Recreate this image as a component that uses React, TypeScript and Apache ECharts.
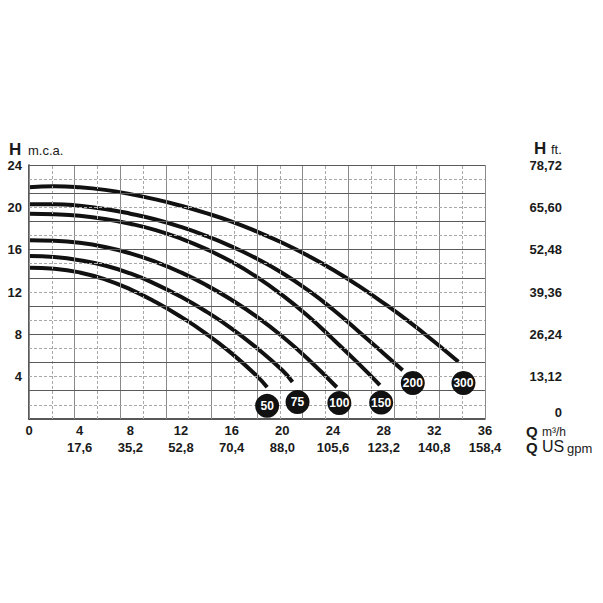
import React, { useEffect, useRef } from 'react';
import * as echarts from 'echarts';

// Pump curves: [Q m3/h, H m.c.a.]
const curve50 = [[0, 14.3], [2, 14.2], [4, 13.85], [6, 13.2], [8, 12.25], [10, 11.05], [12, 9.65], [14, 8.05], [16, 6.2], [18, 4.05], [18.8, 3.0]];
const curve75 = [[0, 15.4], [2, 15.3], [4, 15.0], [6, 14.5], [8, 13.75], [10, 12.75], [12, 11.55], [14, 10.15], [16, 8.55], [18, 6.7], [20, 4.6], [20.8, 3.5]];
const curve100 = [[0, 16.9], [2, 16.85], [4, 16.65], [6, 16.25], [8, 15.65], [10, 14.85], [12, 13.85], [14, 12.65], [16, 11.25], [18, 9.65], [20, 7.8], [22, 5.7], [24.3, 3.0]];
const curve150 = [[0, 19.4], [2, 19.35], [4, 19.2], [6, 18.9], [8, 18.45], [10, 17.85], [12, 17.05], [14, 16.05], [16, 14.85], [18, 13.4], [20, 11.7], [22, 9.75], [24, 7.55], [26, 5.25], [27.7, 3.2]];
const curve200 = [[0, 20.3], [2, 20.3], [4, 20.15], [6, 19.85], [8, 19.4], [10, 18.85], [12, 18.15], [14, 17.3], [16, 16.3], [18, 15.15], [20, 13.8], [22, 12.2], [24, 10.35], [26, 8.3], [28, 6.2], [29.5, 4.6]];
const curve300 = [[0, 21.9], [2, 22.0], [4, 21.9], [6, 21.65], [8, 21.25], [10, 20.75], [12, 20.15], [14, 19.45], [16, 18.65], [18, 17.7], [20, 16.65], [22, 15.45], [24, 14.1], [26, 12.6], [28, 10.95], [30, 9.2], [32, 7.3], [33.9, 5.4]];

const curveNames = ['50', '75', '100', '150', '200', '300'];
const curves = [curve50, curve75, curve100, curve150, curve200, curve300];

// Badge label positions [Q, H, name]
const badges = [[18.8, 1.25, '50'], [21.2, 1.6, '75'], [24.5, 1.5, '100'], [27.8, 1.55, '150'], [30.3, 3.4, '200'], [34.3, 3.4, '300']];

// Axes
const qMin = 0, qMax = 36, qLabelStep = 4;
const hMin = 0, hMax = 24, hLabelStep = 4;
const gridDivX = 20; // vertical grid divisions
const gridDivY = 18; // horizontal grid divisions
const m3hToGpm = 4.4;
const mToFt = 3.28;

const FONT = "'Liberation Sans', Arial, Helvetica, sans-serif";

export default function App() {
  const ref = useRef<HTMLDivElement>(null);
  useEffect(() => {
    document.body.style.margin = '0';
    if (!ref.current) return;
    const chart = echarts.init(ref.current, null, { renderer: 'svg' });

    const gridLines: any[] = [];
    for (let k = 0; k <= gridDivX; k++) {
      const v = (qMax * k) / gridDivX;
      const solid = k % 2 === 0;
      gridLines.push({
        xAxis: v,
        lineStyle: { type: solid ? 'solid' : [3, 2], color: solid ? '#8a8a8a' : '#a8a8a8', width: 1 },
      });
    }
    for (let k = 1; k <= gridDivY; k++) {
      const v = (hMax * k) / gridDivY;
      const solid = k % 2 === 0;
      gridLines.push({
        yAxis: v,
        lineStyle: { type: solid ? 'solid' : [3, 2], color: solid ? '#5a5a5a' : '#a8a8a8', width: 1 },
      });
    }

    const labelStyle = { fontFamily: FONT, fontWeight: 'bold', fontSize: 13, color: '#1a1a1a' };

    const option: any = {
      animation: false,
      grid: { left: 29, right: 118, top: 165, bottom: 184, containLabel: false },
      xAxis: [
        {
          type: 'value', min: qMin, max: qMax, interval: qLabelStep, position: 'bottom',
          axisLine: { show: true, onZero: false, lineStyle: { color: '#222', width: 1.5 } },
          axisTick: { show: false }, splitLine: { show: false },
          axisLabel: { ...labelStyle, margin: 5, formatter: (v: number) => String(v) },
        },
        {
          type: 'value', min: qMin, max: qMax, interval: qLabelStep, position: 'bottom', offset: 17,
          axisLine: { show: false }, axisTick: { show: false }, splitLine: { show: false },
          axisLabel: {
            ...labelStyle, margin: 5,
            formatter: (v: number) => (v === 0 ? '' : (v * m3hToGpm).toFixed(1).replace('.', ',')),
          },
        },
      ],
      yAxis: [
        {
          type: 'value', min: hMin, max: hMax, interval: hLabelStep, position: 'left',
          axisLine: { show: true, onZero: false, lineStyle: { color: '#222', width: 1.5 } },
          axisTick: { show: false }, splitLine: { show: false },
          axisLabel: { ...labelStyle, margin: 7, formatter: (v: number) => (v === 0 ? '' : String(v)) },
        },
        {
          type: 'value', min: hMin, max: hMax, interval: hLabelStep, position: 'right',
          axisLine: { show: false }, axisTick: { show: false }, splitLine: { show: false },
          axisLabel: {
            ...labelStyle, margin: 77, align: 'right',
            formatter: (v: number) => (v === 0 ? '{z|0}' : (v * mToFt).toFixed(2).replace('.', ',')),
            rich: { z: { ...labelStyle, padding: [0, 0, 14, 0] } },
          },
        },
      ],
      series: [
        {
          type: 'line', data: [], silent: true, z: 1,
          markLine: { silent: true, symbol: ['none', 'none'], label: { show: false }, animation: false, data: gridLines },
        },
        ...curves.map((c, i) => ({
          name: curveNames[i], type: 'line', data: c, showSymbol: false, smooth: 0.5,
          silent: true, z: 3,
          lineStyle: { color: '#111', width: 4 },
        })),
        {
          type: 'scatter', data: badges, symbol: 'circle', symbolSize: 24, silent: true, z: 5,
          itemStyle: { color: '#111', opacity: 1 },
          label: {
            show: true, position: 'inside', formatter: (p: any) => p.value[2],
            color: '#fff', fontFamily: FONT, fontWeight: 'bold', fontSize: 12,
          },
        },
      ],
      graphic: [
        { type: 'text', x: 9, y: 149, style: { text: 'H', font: `bold 17px ${FONT}`, fill: '#1a1a1a', textVerticalAlign: 'middle' } },
        { type: 'text', x: 28, y: 150, style: { text: 'm.c.a.', font: `13px ${FONT}`, fill: '#1a1a1a', textVerticalAlign: 'middle' } },
        { type: 'text', x: 534, y: 148, style: { text: 'H', font: `bold 17px ${FONT}`, fill: '#1a1a1a', textVerticalAlign: 'middle' } },
        { type: 'text', x: 551, y: 149, style: { text: 'ft.', font: `13px ${FONT}`, fill: '#1a1a1a', textVerticalAlign: 'middle' } },
        { type: 'text', x: 526, y: 431, style: { text: 'Q', font: `bold 15px ${FONT}`, fill: '#1a1a1a', textVerticalAlign: 'middle' } },
        { type: 'text', x: 542, y: 432, style: { text: 'm³/h', font: `12px ${FONT}`, fill: '#1a1a1a', textVerticalAlign: 'middle' } },
        { type: 'text', x: 526, y: 447, style: { text: 'Q', font: `bold 15px ${FONT}`, fill: '#1a1a1a', textVerticalAlign: 'middle' } },
        { type: 'text', x: 542, y: 446, style: { text: 'US', font: `16px ${FONT}`, fill: '#1a1a1a', textVerticalAlign: 'middle' } },
        { type: 'text', x: 567, y: 448, style: { text: 'gpm', font: `13px ${FONT}`, fill: '#1a1a1a', textVerticalAlign: 'middle' } },
      ],
    };
    chart.setOption(option);
    return () => chart.dispose();
  }, []);
  return <div ref={ref} style={{ width: 603, height: 603 }} />;
}
